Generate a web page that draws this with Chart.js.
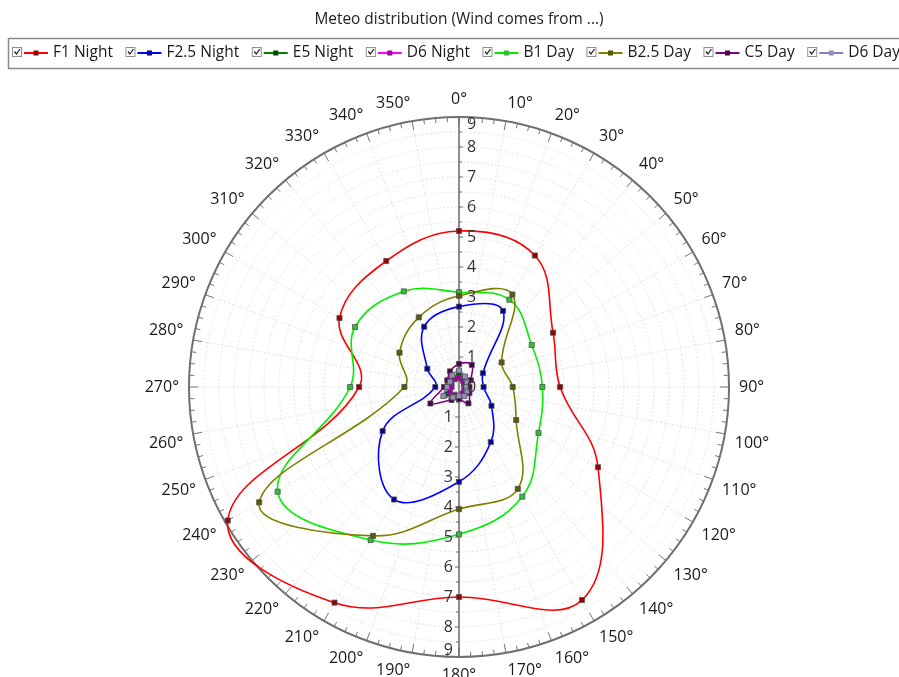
<!DOCTYPE html>
<html>
<head>
<meta charset="utf-8">
<script src="https://cdn.jsdelivr.net/npm/chart.js@4.4.1/dist/chart.umd.min.js"></script>
<style>
  html, body { margin: 0; padding: 0; background: #fff; }
  #wrap { width: 899px; height: 677px; }
</style>
</head>
<body>
<div id="wrap"><canvas id="meteoChart"></canvas></div>
<script>
// angular labels, every 10 degrees
const angleLabels = ["0°","10°","20°","30°","40°","50°","60°","70°","80°","90°","100°","110°",
  "120°","130°","140°","150°","160°","170°","180°","190°","200°","210°","220°","230°",
  "240°","250°","260°","270°","280°","290°","300°","310°","320°","330°","340°","350°"];
// radial tick labels
const radialTicks = [0, 1, 2, 3, 4, 5, 6, 7, 8, 9];

// values per sector: 0°, 30°, 60°, ... 330°
const f1Night  = [5.2, 5.06, 3.62, 3.37, 5.35, 8.2, 7.0, 8.3, 8.9, 3.33, 4.6, 4.85];
const f25Night = [2.68, 2.93, 0.92, 0.82, 1.25, 2.12, 3.16, 4.33, 2.94, 0.79, 1.22, 2.32];
const e5Night  = [0.45, 0.3, 0.2, 0.2, 0.25, 0.3, 0.35, 0.4, 0.45, 0.3, 0.3, 0.35];
const d6Night  = [0.3, 0.25, 0.2, 0.2, 0.2, 0.25, 0.3, 0.3, 0.35, 0.25, 0.3, 0.3];
const b1Day    = [3.16, 3.36, 2.8, 2.78, 3.06, 4.22, 4.91, 5.89, 6.98, 3.63, 4.0, 3.68];
const b25Day   = [3.04, 3.56, 1.64, 1.79, 2.2, 3.92, 4.07, 5.73, 7.69, 1.82, 2.29, 2.68];
const c5Day    = [0.77, 0.85, 0.45, 0.35, 0.4, 0.63, 0.41, 0.5, 1.1, 0.5, 0.45, 0.6];
const d6Day    = [0.55, 0.4, 0.3, 0.25, 0.3, 0.35, 0.3, 0.4, 0.6, 0.4, 0.35, 0.45];

const seriesNames = ["F1 Night", "F2.5 Night", "E5 Night", "D6 Night", "B1 Day", "B2.5 Day", "C5 Day", "D6 Day"];
const seriesValues = [f1Night, f25Night, e5Night, d6Night, b1Day, b25Day, c5Day, d6Day];
const lineColors = ["#ff0000", "#0000ff", "#008000", "#ff00ff", "#00ee00", "#808000", "#800080", "#8080c0"];
const markColors = ["#9a0000", "#00009a", "#004a00", "#a000a0", "#30c030", "#5a5a00", "#4a004a", "#9090b8"];

// spread 12 sector values onto the 36 spokes (one every 3rd spoke)
function toSpokes(values) {
  const out = new Array(angleLabels.length).fill(null);
  values.forEach((v, i) => { out[i * 3] = v; });
  return out;
}

const datasets = seriesNames.map((name, i) => ({
  label: name,
  data: toSpokes(seriesValues[i]),
  borderColor: lineColors[i],
  borderWidth: 1.6,
  backgroundColor: "transparent",
  fill: false,
  spanGaps: true,
  tension: 0.4,
  capBezierPoints: false,
  pointStyle: "rect",
  pointRadius: 3.6,
  pointBackgroundColor: markColors[i],
  pointBorderColor: "#505050",
  pointBorderWidth: 0.8,
  order: seriesNames.length - i,
}));

const FONT = '"Open Sans", "DejaVu Sans", sans-serif';

// draws the polar frame, labels, title and the legend box
const polarDecor = {
  id: "polarDecor",
  beforeDatasetsDraw(chart) {
    const ctx = chart.ctx;
    const r = chart.scales.r;
    const cx = r.xCenter, cy = r.yCenter, R = r.drawingArea;
    ctx.save();
    // ring ticks
    ctx.strokeStyle = "#777";
    ctx.lineWidth = 1;
    for (let a = 0; a < 360; a += 2.5) {
      const rad = (a - 90) * Math.PI / 180;
      const len = a % 10 === 0 ? 9 : 5;
      ctx.beginPath();
      ctx.moveTo(cx + Math.cos(rad) * R, cy + Math.sin(rad) * R);
      ctx.lineTo(cx + Math.cos(rad) * (R - len), cy + Math.sin(rad) * (R - len));
      ctx.stroke();
    }
    // outer ring
    ctx.strokeStyle = "#707070";
    ctx.lineWidth = 2;
    ctx.beginPath();
    ctx.arc(cx, cy, R, 0, Math.PI * 2);
    ctx.stroke();
    // vertical axis
    ctx.strokeStyle = "#6a6a6a";
    ctx.lineWidth = 1.5;
    ctx.beginPath();
    ctx.moveTo(cx, cy - R);
    ctx.lineTo(cx, cy + R);
    ctx.stroke();
    ctx.lineWidth = 1;
    for (let v = 0.5; v < 9; v += 0.5) {
      const d = r.getDistanceFromCenterForValue(v);
      const w = Number.isInteger(v) ? 4 : 3;
      ctx.beginPath();
      ctx.moveTo(cx, cy - d); ctx.lineTo(cx + w, cy - d);
      ctx.moveTo(cx, cy + d); ctx.lineTo(cx - w, cy + d);
      ctx.stroke();
    }
    ctx.restore();
  },
  afterDraw(chart) {
    const ctx = chart.ctx;
    const r = chart.scales.r;
    const cx = r.xCenter, cy = r.yCenter, R = r.drawingArea;
    ctx.save();

    // angle labels
    ctx.font = "16px " + FONT;
    ctx.fillStyle = "#1a1a1a";
    angleLabels.forEach((lab, i) => {
      const deg = i * 10;
      const p = r.getPointPosition(i, R + 10);
      let align = "left";
      if (deg === 0 || deg === 180) align = "center";
      else if (deg > 180) align = "right";
      let base = "middle";
      if (deg === 90 || deg === 270) base = "middle";
      else if (deg > 270 || deg < 90) base = "bottom";
      else base = "top";
      ctx.textAlign = align;
      ctx.textBaseline = base;
      ctx.fillText(lab, p.x, p.y);
    });

    // radial value labels: up side right of the axis, down side left of it
    ctx.font = "16px " + FONT;
    ctx.fillStyle = "#333";
    ctx.textBaseline = "middle";
    radialTicks.forEach((v) => {
      const d = r.getDistanceFromCenterForValue(v);
      const shift = v === 9 ? 7 : 0;
      ctx.textAlign = "left";
      ctx.fillText(String(v), cx + 8, cy - d + shift);
      if (v > 0) {
        ctx.textAlign = "right";
        ctx.fillText(String(v), cx - 6, cy + d - shift);
      }
    });

    // title
    ctx.font = "15.4px " + FONT;
    ctx.fillStyle = "#222";
    ctx.textAlign = "center";
    ctx.textBaseline = "middle";
    ctx.fillText("Meteo distribution (Wind comes from ...)", 459, 20);

    // legend box
    ctx.strokeStyle = "#8a8a8a";
    ctx.lineWidth = 1.5;
    ctx.strokeRect(8.5, 38.5, 900, 30);
    ctx.font = "15.5px " + FONT;
    ctx.textAlign = "left";
    let x = 12;
    const y = 53;
    seriesNames.forEach((name, i) => {
      // checkbox
      ctx.strokeStyle = "#909090";
      ctx.lineWidth = 1;
      ctx.fillStyle = "#fff";
      ctx.fillRect(x + 0.5, y - 5.5, 9, 9);
      ctx.strokeRect(x + 0.5, y - 5.5, 9, 9);
      ctx.strokeStyle = "#222";
      ctx.lineWidth = 1.3;
      ctx.beginPath();
      ctx.moveTo(x + 2.5, y - 1.5);
      ctx.lineTo(x + 4.5, y + 1);
      ctx.lineTo(x + 8, y - 4);
      ctx.stroke();
      // line + marker
      ctx.strokeStyle = lineColors[i];
      ctx.lineWidth = 2;
      ctx.beginPath();
      ctx.moveTo(x + 12, y);
      ctx.lineTo(x + 36, y);
      ctx.stroke();
      ctx.fillStyle = markColors[i];
      ctx.fillRect(x + 21.5, y - 2.5, 5, 5);
      // text
      ctx.fillStyle = "#1a1a1a";
      ctx.textBaseline = "middle";
      ctx.fillText(name, x + 41, y);
      x += 41 + ctx.measureText(name).width + 12.5;
    });
    ctx.restore();
  },
};

new Chart(document.getElementById("meteoChart"), {
  type: "radar",
  data: { labels: angleLabels, datasets },
  options: {
    responsive: true,
    maintainAspectRatio: false,
    animation: false,
    layout: { padding: { left: 189, right: 170, top: 117, bottom: 20 } },
    plugins: {
      legend: { display: false },
      title: { display: false },
      tooltip: { enabled: false },
    },
    scales: {
      r: {
        min: 0,
        max: 9,
        startAngle: 0,
        ticks: { display: false, stepSize: 0.5 },
        pointLabels: { display: false },
        grid: { circular: true, color: "#e2e2e2", lineWidth: 1 },
        border: { dash: [2, 2] },
        angleLines: { color: "#e2e2e2", lineWidth: 1, borderDash: [2, 2] },
      },
    },
  },
  plugins: [polarDecor],
});
</script>
</body>
</html>
